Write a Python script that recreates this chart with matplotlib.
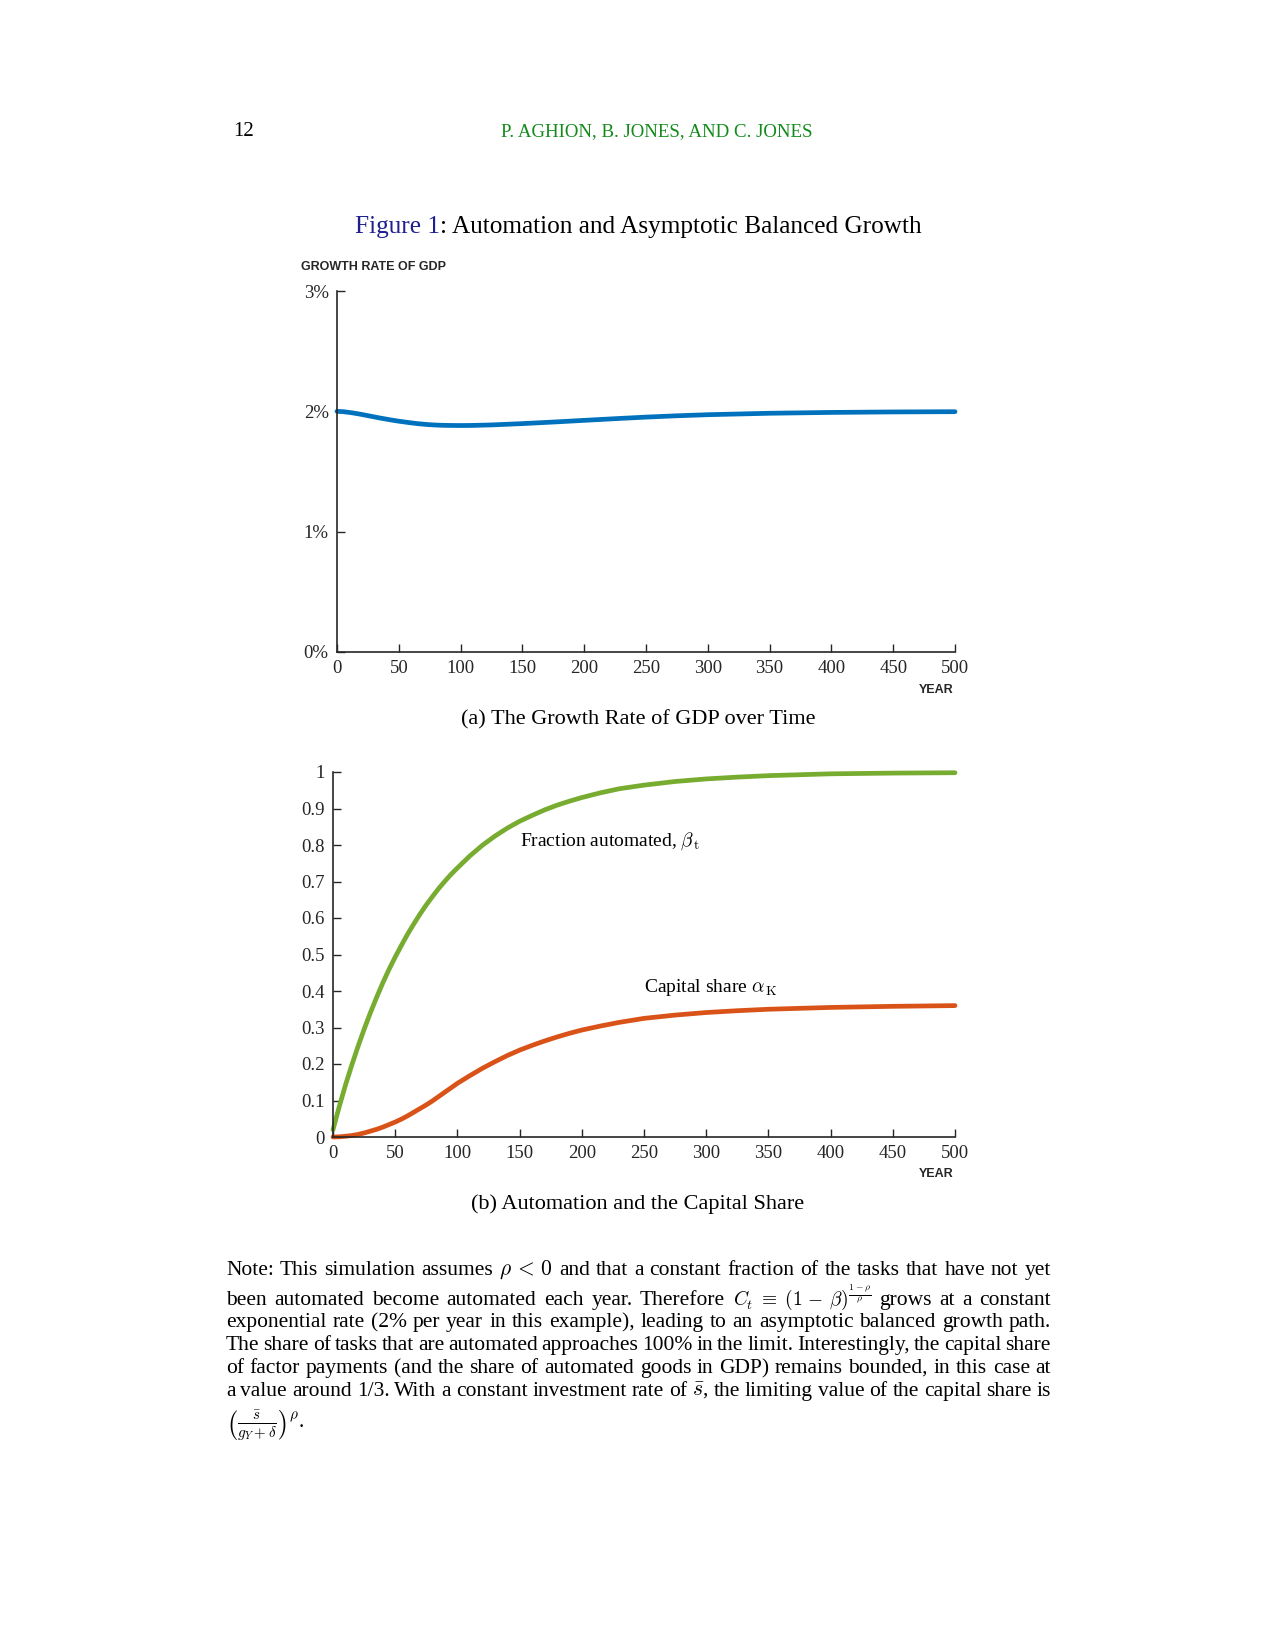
import matplotlib.pyplot as plt
import numpy as np

plt.rcParams['mathtext.fontset'] = 'cm'
SERIF = 'Liberation Serif'
SANS = 'Liberation Sans'
DARK = '#262626'

# panel (a): growth rate of GDP, percent per year
years_a = [0, 5, 10, 15, 20, 25, 30, 35, 40, 45, 50, 55, 60, 65, 70, 75, 80,
           85, 90, 100, 110, 125, 150, 175, 200, 225, 250, 275, 300, 350, 400,
           450, 500]
growth = [2.000, 1.997, 1.991, 1.983, 1.974, 1.964, 1.954, 1.944, 1.935, 1.926,
          1.918, 1.911, 1.904, 1.898, 1.893, 1.889, 1.886, 1.884, 1.883, 1.882,
          1.883, 1.887, 1.898, 1.911, 1.925, 1.939, 1.952, 1.963, 1.972, 1.984,
          1.991, 1.995, 1.997]

# panel (b): fraction automated and capital share
years_b = [0, 5, 10, 15, 20, 25, 30, 35, 40, 45, 50, 55, 60, 65, 70, 75, 80,
           85, 90, 95, 100, 110, 120, 130, 140, 150, 160, 170, 180, 190, 200,
           215, 230, 250, 275, 300, 325, 350, 400, 450, 500]
beta = [0.020, 0.083, 0.142, 0.196, 0.247, 0.295, 0.340, 0.382, 0.422, 0.459,
        0.493, 0.525, 0.556, 0.584, 0.611, 0.636, 0.659, 0.681, 0.701, 0.720,
        0.737, 0.770, 0.799, 0.824, 0.846, 0.865, 0.881, 0.896, 0.909, 0.920,
        0.930, 0.943, 0.954, 0.964, 0.974, 0.981, 0.986, 0.990, 0.995, 0.997,
        0.998]
alpha = [0.000, 0.0005, 0.002, 0.004, 0.007, 0.011, 0.016, 0.021, 0.027, 0.034,
         0.041, 0.049, 0.058, 0.068, 0.078, 0.088, 0.099, 0.111, 0.123, 0.135,
         0.147, 0.168, 0.188, 0.206, 0.223, 0.238, 0.251, 0.263, 0.274, 0.284,
         0.293, 0.304, 0.314, 0.325, 0.334, 0.341, 0.346, 0.350, 0.355, 0.358,
         0.360]

xticks = list(range(0, 501, 50))
yticks_a = [0, 1, 2, 3]
ytick_labels_a = ['0%', '1%', '2%', '3%']
yticks_b = [i / 10 for i in range(11)]
ytick_labels_b = ['0', '0.1', '0.2', '0.3', '0.4', '0.5', '0.6', '0.7', '0.8',
                  '0.9', '1']

W, H = 1275, 1650
fig = plt.figure(figsize=(W / 100, H / 100), dpi=100)


def fx(x):
    return x / W


def fy(y):
    return 1 - y / H


def style(ax):
    for s in ['top', 'right']:
        ax.spines[s].set_visible(False)
    for s in ['left', 'bottom']:
        ax.spines[s].set_color(DARK)
        ax.spines[s].set_linewidth(1.2)
    ax.tick_params(direction='in', length=6, width=1.0, color=DARK,
                   labelcolor=DARK, labelsize=13.5, pad=6)
    for lab in ax.get_xticklabels() + ax.get_yticklabels():
        lab.set_family(SERIF)


# ---- panel (a)
ax1 = fig.add_axes([fx(337), fy(652), fx(955 - 337), (652 - 291) / H])
ax1.plot(years_a, growth, color='#0072BD', lw=3.4, solid_capstyle='round',
         solid_joinstyle='round', clip_on=False)
ax1.set_xlim(0, 500)
ax1.set_ylim(0, 3)
ax1.set_xticks(xticks)
ax1.set_yticks(yticks_a)
ax1.set_yticklabels(ytick_labels_a)
style(ax1)

# ---- panel (b)
ax2 = fig.add_axes([fx(333), fy(1137), fx(955 - 333), (1137 - 772) / H])
ax2.plot(years_b, beta, color='#77AC30', lw=3.4, solid_capstyle='round',
         solid_joinstyle='round', clip_on=False)
ax2.plot(years_b, alpha, color='#D95319', lw=3.4, solid_capstyle='round',
         solid_joinstyle='round', clip_on=False)
ax2.set_xlim(0, 500)
ax2.set_ylim(0, 1)
ax2.set_xticks(xticks)
ax2.set_yticks(yticks_b)
ax2.set_yticklabels(ytick_labels_b)
style(ax2)
ax2.text(150, 0.81, r'Fraction automated, $\beta_{\,\rm t}$', family=SERIF,
         fontsize=14, color='black', va='center')
ax2.text(250, 0.41, r'Capital share $\alpha_{\,\rm K}$', family=SERIF,
         fontsize=14, color='black', va='center')

# ---- axis titles
fig.text(fx(301), fy(267), 'GROWTH RATE OF GDP', family=SANS, weight='bold',
         fontsize=9, color=DARK, va='center')
fig.text(fx(953), fy(690), 'YEAR', family=SANS, weight='bold', fontsize=9,
         color=DARK, va='center', ha='right')
fig.text(fx(953), fy(1174), 'YEAR', family=SANS, weight='bold', fontsize=9,
         color=DARK, va='center', ha='right')

# ---- page header, title, captions
fig.text(fx(233), fy(131), '12', family=SERIF, fontsize=15, va='center')
fig.text(fx(657), fy(132), 'P. AGHION, B. JONES, AND C. JONES', family=SERIF,
         fontsize=13.6, color='#138a1a', va='center', ha='center')

renderer = fig.canvas.get_renderer()
t1 = fig.text(0, fy(227), 'Figure 1', family=SERIF, fontsize=18.2,
              color='#1f1f8f', va='center')
t2 = fig.text(0, fy(227), ': Automation and Asymptotic Balanced Growth',
              family=SERIF, fontsize=18.2, color='black', va='center')
w1 = t1.get_window_extent(renderer).width
w2 = t2.get_window_extent(renderer).width
x0 = 638 - (w1 + w2) / 2
t1.set_x(fx(x0))
t2.set_x(fx(x0 + w1))

fig.text(fx(638), fy(720), '(a) The Growth Rate of GDP over Time',
         family=SERIF, fontsize=16, va='center', ha='center')
fig.text(fx(638), fy(1204), '(b) Automation and the Capital Share',
         family=SERIF, fontsize=16, va='center', ha='center')

# ---- note (justified paragraph)
note_lines = [
    ['Note:', 'This', 'simulation', 'assumes', r'$\rho\,<\,0$', 'and', 'that',
     'a', 'constant', 'fraction', 'of', 'the', 'tasks', 'that', 'have', 'not',
     'yet'],
    ['been', 'automated', 'become', 'automated', 'each', 'year.', 'Therefore',
     r'$C_t\;\equiv\;(1\,-\,\beta)^{\frac{1-\rho}{\rho}}$', 'grows', 'at', 'a',
     'constant'],
    ['exponential', 'rate', '(2%', 'per', 'year', 'in', 'this', 'example),',
     'leading', 'to', 'an', 'asymptotic', 'balanced', 'growth', 'path.'],
    ['The', 'share', 'of', 'tasks', 'that', 'are', 'automated', 'approaches',
     '100%', 'in', 'the', 'limit.', 'Interestingly,', 'the', 'capital',
     'share'],
    ['of', 'factor', 'payments', '(and', 'the', 'share', 'of', 'automated',
     'goods', 'in', 'GDP)', 'remains', 'bounded,', 'in', 'this', 'case', 'at'],
    ['a', 'value', 'around', '1/3.', 'With', 'a', 'constant', 'investment',
     'rate', 'of', r'$\bar{s}$,', 'the', 'limiting', 'value', 'of', 'the',
     'capital', 'share', 'is'],
]
note_baselines = [1275, 1305, 1327, 1350, 1373, 1396]
left, right = 226, 1051
for words, yb in zip(note_lines, note_baselines):
    texts = []
    for w in words:
        size = 14 if w.startswith('$C_t') else 15.5
        texts.append(fig.text(0, fy(yb), w, family=SERIF, fontsize=size,
                              va='baseline'))
    widths = [t.get_window_extent(renderer).width for t in texts]
    gap = max((right - left - sum(widths)) / (len(texts) - 1), 3)
    x = left
    for t, w in zip(texts, widths):
        t.set_x(fx(x))
        x += w + gap
fig.text(fx(left), fy(1428),
         r'$\left(\frac{\bar{s}}{g_Y+\delta}\right)^{\rho}$.',
         family=SERIF, fontsize=15.5, va='baseline')

fig.savefig('out.png', dpi=100)
